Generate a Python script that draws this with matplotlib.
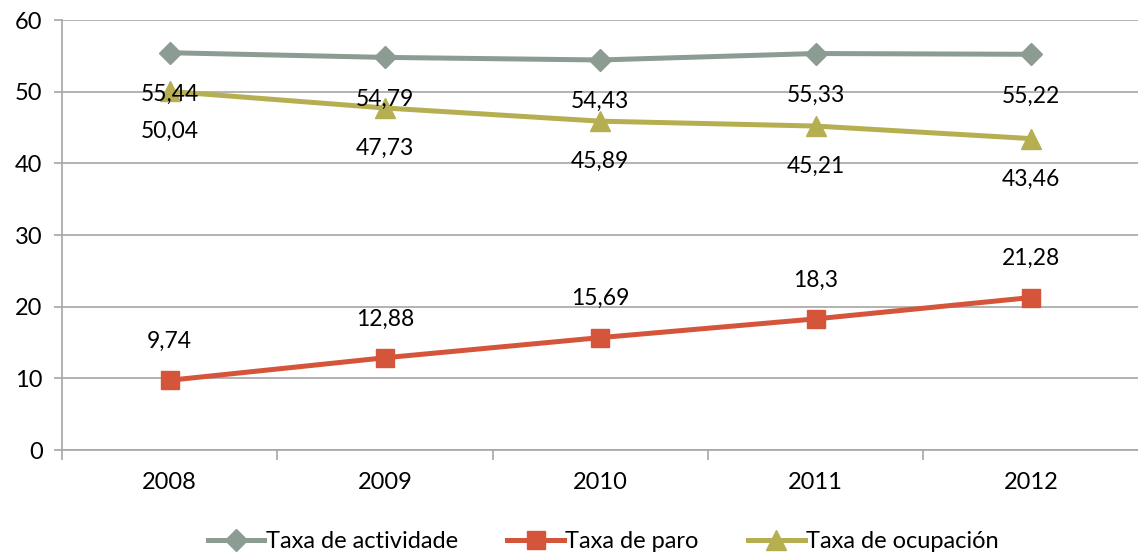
import matplotlib.pyplot as plt
import numpy as np

years = ['2008', '2009', '2010', '2011', '2012']
actividade = [55.44, 54.79, 54.43, 55.33, 55.22]
paro = [9.74, 12.88, 15.69, 18.3, 21.28]
ocupacion = [50.04, 47.73, 45.89, 45.21, 43.46]
labels_act = ['55,44', '54,79', '54,43', '55,33', '55,22']
labels_paro = ['9,74', '12,88', '15,69', '18,3', '21,28']
labels_ocu = ['50,04', '47,73', '45,89', '45,21', '43,46']

plt.rcParams['font.family'] = ['Lato', 'DejaVu Sans']

fig = plt.figure(figsize=(11.38, 5.57), dpi=100)
ax = fig.add_axes([0.0545, 0.192, 0.946, 0.772])

x = np.arange(len(years))
grid_c = '#A6A6A6'

ax.plot(x, actividade, color='#8C9C93', lw=3.6, marker='D', ms=11, label='Taxa de actividade', zorder=3)
ax.plot(x, paro, color='#D5553A', lw=3.6, marker='s', ms=13, label='Taxa de paro', zorder=3)
ax.plot(x, ocupacion, color='#B6AF52', lw=3.6, marker='^', ms=15, label='Taxa de ocupación', zorder=3)

# data labels
for xi, v, t in zip(x, actividade, labels_act):
    ax.annotate(t, (xi, v), xytext=(0, -30), textcoords='offset points', ha='center', va='center', fontsize=16.5, zorder=4)
for xi, v, t in zip(x, ocupacion, labels_ocu):
    ax.annotate(t, (xi, v), xytext=(0, -29), textcoords='offset points', ha='center', va='center', fontsize=16.5, zorder=4)
for xi, v, t in zip(x, paro, labels_paro):
    ax.annotate(t, (xi, v), xytext=(0, 28), textcoords='offset points', ha='center', va='center', fontsize=16.5, zorder=4)

ax.set_xlim(-0.5, 4.5)
ax.set_ylim(0, 60)
ax.set_yticks(range(0, 61, 10))
ax.set_xticks(x)
ax.set_xticklabels(years)
ax.set_xticks(np.arange(-0.5, 5, 1), minor=True)
ax.tick_params(axis='x', which='major', length=0, pad=16, labelsize=17)
ax.tick_params(axis='x', which='minor', length=7, color=grid_c, width=1.2, direction='out')
ax.tick_params(axis='y', length=6, color=grid_c, width=1.2, pad=8, labelsize=17)
ax.yaxis.grid(True, color=grid_c, lw=1.2)
ax.set_axisbelow(True)
for s in ['top', 'right']:
    ax.spines[s].set_visible(False)
for s in ['left', 'bottom']:
    ax.spines[s].set_color(grid_c)
    ax.spines[s].set_linewidth(1.2)

fig.legend(loc='lower center', bbox_to_anchor=(0.53, -0.03), ncol=3, frameon=False,
           fontsize=17, handlelength=2.4, handletextpad=0.05, columnspacing=2.1)

fig.savefig('out.png', dpi=100)
